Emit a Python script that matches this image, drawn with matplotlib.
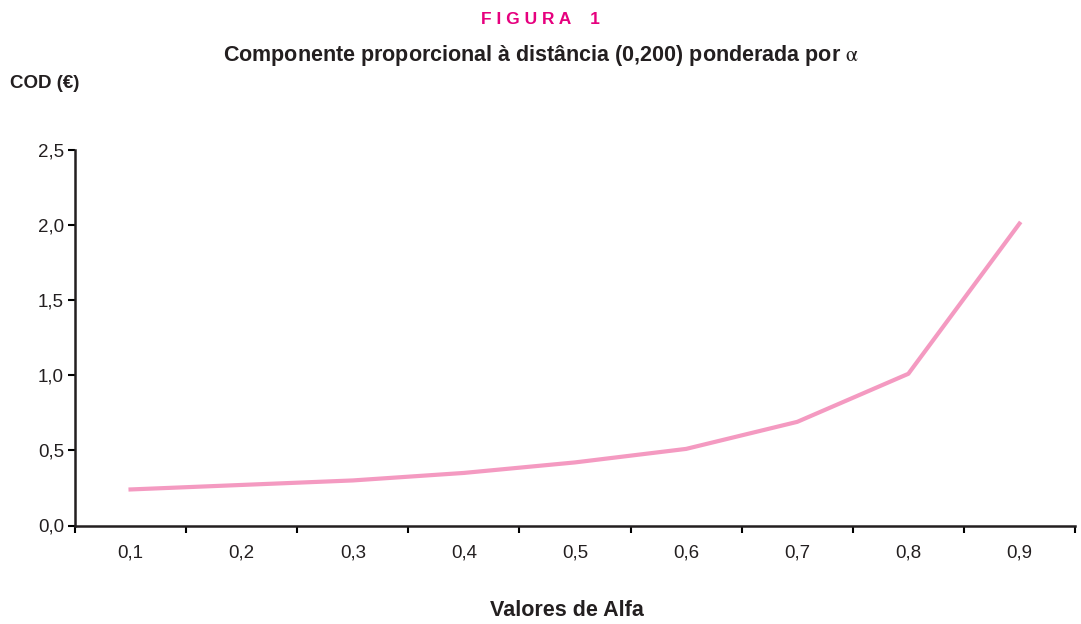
import matplotlib
matplotlib.use('Agg')
import matplotlib.pyplot as plt
import numpy as np

plt.rcParams['font.family'] = ['Liberation Sans', 'DejaVu Sans']
plt.rcParams['mathtext.fontset'] = 'stix'

alfa = ['0,1', '0,2', '0,3', '0,4', '0,5', '0,6', '0,7', '0,8', '0,9']
cod = [0.24, 0.27, 0.30, 0.35, 0.42, 0.51, 0.69, 1.01, 2.01]
y_ticks = [0.0, 0.5, 1.0, 1.5, 2.0, 2.5]
y_labels = ['0,0', '0,5', '1,0', '1,5', '2,0', '2,5']

fig = plt.figure(figsize=(10.81, 6.24), dpi=100)
ax = fig.add_axes([75/1081, 1 - 525.5/624, 1000/1081, 375.5/624])

x = np.arange(len(alfa))
ax.plot(x, cod, color='#f49ac1', linewidth=3)

ax.set_xlim(-0.5, len(alfa) - 0.5)
ax.set_ylim(0, 2.5)
ax.set_xticks(x)
ax.set_xticklabels(alfa, fontsize=13.5, color='#231f20')
ax.set_xticks(np.arange(len(alfa) + 1) - 0.5, minor=True)
ax.tick_params(axis='x', which='major', length=0, pad=14)
ax.tick_params(axis='x', which='minor', length=5, width=1.5, direction='out')
ax.set_yticks(y_ticks)
ax.set_yticklabels(y_labels, fontsize=13.5, color='#231f20')
ax.tick_params(axis='y', length=5, width=1.5, direction='out', pad=3)

for s in ['top', 'right']:
    ax.spines[s].set_visible(False)
for s in ['left', 'bottom']:
    ax.spines[s].set_linewidth(1.8)
    ax.spines[s].set_color('#231f20')

fig.text(0.5, 1 - 20/624, 'F I G U R A    1', color='#e6007e', fontsize=12.5,
         fontweight='bold', ha='center', va='center')
fig.text(0.5, 1 - 56/624, 'Componente proporcional à distância (0,200) ponderada por $\\mathrm{\\alpha}$',
         fontsize=15.5, fontweight='bold', ha='center', va='center', color='#231f20')
fig.text(10/1081, 1 - 83/624, 'COD (€)', fontsize=13.5, fontweight='bold',
         ha='left', va='center', color='#231f20')
fig.text(567/1081, 1 - 610/624, 'Valores de Alfa', fontsize=15.5, fontweight='bold',
         ha='center', va='center', color='#231f20')

fig.savefig('out.png', dpi=100)
